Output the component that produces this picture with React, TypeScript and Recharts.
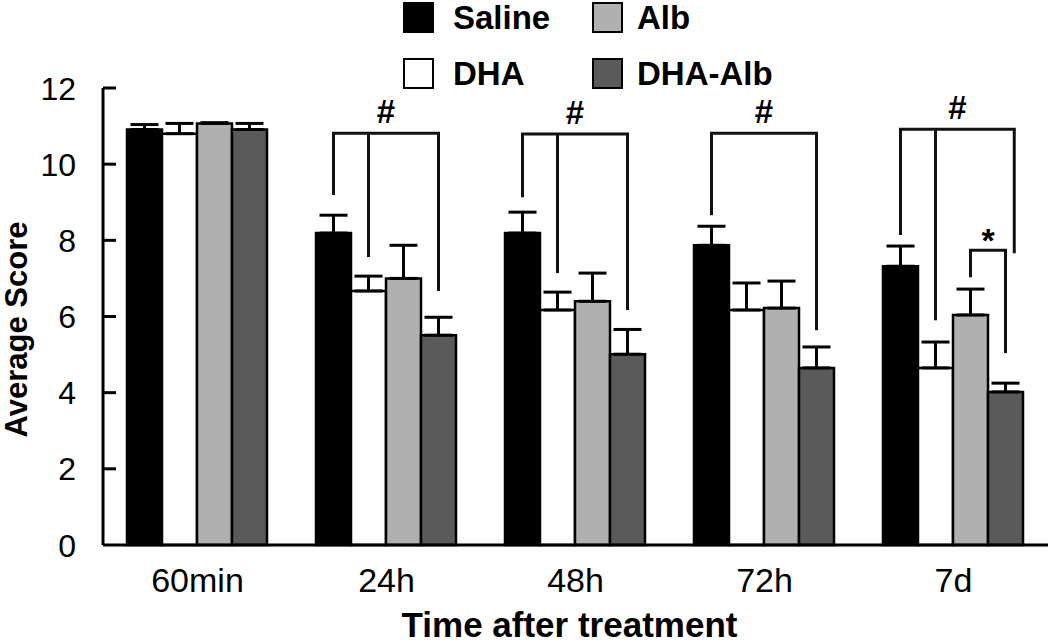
import { BarChart, Bar, XAxis, YAxis, ErrorBar, Rectangle } from 'recharts';

const categories = ['60min', '24h', '48h', '72h', '7d'];
const saline = [10.91, 8.19, 8.19, 7.87, 7.32];
const dha = [10.8, 6.67, 6.17, 6.17, 4.65];
const alb = [11.07, 7.0, 6.4, 6.22, 6.04];
const dhaAlb = [10.91, 5.51, 5.01, 4.65, 4.02];
const salineErr = [0.13, 0.47, 0.55, 0.5, 0.53];
const dhaErr = [0.27, 0.39, 0.47, 0.71, 0.68];
const albErr = [0.02, 0.87, 0.74, 0.71, 0.68];
const dhaAlbErr = [0.16, 0.47, 0.65, 0.55, 0.23];
const yTicks = [0, 2, 4, 6, 8, 10, 12];

// significance brackets: legs are [bar position in group, bottom value]
const brackets = [
  { cat: '24h', mark: '#', top: 10.81, legs: [[0, 9.19], [1, 7.56], [3, 6.67]] },
  { cat: '48h', mark: '#', top: 10.79, legs: [[0, 9.13], [1, 7.14], [3, 6.17]] },
  { cat: '72h', mark: '#', top: 10.81, legs: [[0, 8.66], [3, 5.64]] },
  { cat: '7d', mark: '#', top: 10.92, legs: [[0, 8.14], [1, 5.9], [3.25, 7.66]] },
  { cat: '7d', mark: '*', top: 7.74, legs: [[2, 7.03], [3, 5.04]] },
];

const data = categories.map((c, i) => ({
  name: c,
  saline: saline[i],
  dha: dha[i],
  alb: alb[i],
  dhaAlb: dhaAlb[i],
  salineErr: salineErr[i],
  dhaErr: dhaErr[i],
  albErr: albErr[i],
  dhaAlbErr: dhaAlbErr[i],
}));

const FONT = '"Liberation Sans", Arial, Helvetica, sans-serif';
const TICK_MARGIN = 27;

const YTick = (props: any) => {
  const { x, y, payload } = props;
  const axisX = x + TICK_MARGIN;
  return (
    <g>
      {payload.value !== 0 && (
        <line x1={axisX} y1={y} x2={axisX + 13} y2={y} stroke="#000" strokeWidth={3} />
      )}
      <text x={x} y={y} dy="0.36em" textAnchor="end" fontSize={32} fontFamily={FONT} fill="#000">
        {payload.value}
      </text>
    </g>
  );
};

// last bar of each group also draws the brackets for its group, using the bar's own scale
const DhaAlbShape = (props: any) => {
  const { x, y, width, height, payload, fill } = props;
  const base = y + height;
  const unit = height / payload.dhaAlb;
  const toY = (v: number) => base - v * unit;
  const groupX = x - 3 * width;
  const legX = (pos: number) => groupX + (pos + 0.5) * width;
  const mine = brackets.filter((b) => b.cat === payload.name);
  return (
    <g>
      <Rectangle x={x} y={y} width={width} height={height} fill={fill} stroke="#000" strokeWidth={2.5} />
      {mine.map((b, i) => {
        const xs = b.legs.map((l) => legX(l[0]));
        const top = toY(b.top);
        const cx = (Math.min(...xs) + Math.max(...xs)) / 2;
        return (
          <g key={i}>
            <line x1={Math.min(...xs) - 1.5} y1={top} x2={Math.max(...xs) + 1.5} y2={top} stroke="#111" strokeWidth={3} />
            {b.legs.map((l, j) => (
              <line key={j} x1={legX(l[0])} y1={top} x2={legX(l[0])} y2={toY(l[1])} stroke="#111" strokeWidth={3} />
            ))}
            <text
              x={cx}
              y={b.mark === '#' ? top - 10 : top + 2}
              textAnchor="middle"
              fontSize={b.mark === '#' ? 33 : 34}
              fontWeight="bold"
              fontFamily={FONT}
              fill="#000"
            >
              {b.mark}
            </text>
          </g>
        );
      })}
    </g>
  );
};

const legendItems = [
  { name: 'Saline', color: '#000000', left: 403, top: 2 },
  { name: 'Alb', color: '#b0b0b0', left: 592, top: 2 },
  { name: 'DHA', color: '#ffffff', left: 403, top: 58 },
  { name: 'DHA-Alb', color: '#5a5a5a', left: 592, top: 58 },
];

export default function App() {
  return (
    <div style={{ position: 'absolute', left: 0, top: 0, width: 1050, height: 644, background: '#fff', overflow: 'hidden' }}>
      {legendItems.map((it) => (
        <div
          key={it.name}
          style={{
            position: 'absolute',
            left: it.left,
            top: it.top,
            display: 'flex',
            alignItems: 'center',
            fontFamily: FONT,
            fontWeight: 'bold',
            fontSize: 33,
            lineHeight: '31px',
          }}
        >
          <span
            style={{
              display: 'inline-block',
              width: 27,
              height: 27,
              background: it.color,
              border: '2px solid #000',
              marginRight: it.left > 500 ? 14 : 19,
            }}
          />
          {it.name}
        </div>
      ))}
      <BarChart
        width={1050}
        height={644}
        data={data}
        margin={{ top: 88, right: 2, left: 0, bottom: 0 }}
        barGap={0}
        barCategoryGap={24}
      >
        <XAxis
          dataKey="name"
          height={99}
          axisLine={{ stroke: '#000', strokeWidth: 3 }}
          tickLine={false}
          tickSize={0}
          tickMargin={23}
          tick={{ fontSize: 34, fill: '#000', fontFamily: FONT }}
          label={{
            content: ({ viewBox }: any) => (
              <text
                x={viewBox.x + viewBox.width / 2 - 6}
                y={viewBox.y + viewBox.height - 7}
                textAnchor="middle"
                fontSize={35}
                fontWeight="bold"
                fontFamily={FONT}
                fill="#000"
              >
                Time after treatment
              </text>
            ),
          }}
        />
        <YAxis
          width={103}
          domain={[0, 12]}
          ticks={yTicks}
          interval={0}
          axisLine={{ stroke: '#000', strokeWidth: 3 }}
          tickLine={false}
          tickSize={0}
          tickMargin={TICK_MARGIN}
          tick={<YTick />}
          label={{
            content: ({ viewBox }: any) => {
              const cx = 27;
              const cy = viewBox.y + viewBox.height / 2 + 13;
              return (
                <text
                  x={cx}
                  y={cy}
                  transform={`rotate(-90 ${cx} ${cy})`}
                  textAnchor="middle"
                  fontSize={31}
                  fontWeight="bold"
                  fontFamily={FONT}
                  fill="#000"
                >
                  Average Score
                </text>
              );
            },
          }}
        />
        <Bar dataKey="saline" fill="#000000" stroke="#000" strokeWidth={2.5} isAnimationActive={false}>
          <ErrorBar dataKey={(d: any) => [0, d.salineErr]} width={14} stroke="#000" strokeWidth={3} direction="y" isAnimationActive={false} />
        </Bar>
        <Bar dataKey="dha" fill="#ffffff" stroke="#000" strokeWidth={2.5} isAnimationActive={false}>
          <ErrorBar dataKey={(d: any) => [0, d.dhaErr]} width={14} stroke="#000" strokeWidth={3} direction="y" isAnimationActive={false} />
        </Bar>
        <Bar dataKey="alb" fill="#b0b0b0" stroke="#000" strokeWidth={2.5} isAnimationActive={false}>
          <ErrorBar dataKey={(d: any) => [0, d.albErr]} width={14} stroke="#000" strokeWidth={3} direction="y" isAnimationActive={false} />
        </Bar>
        <Bar dataKey="dhaAlb" fill="#5a5a5a" stroke="#000" strokeWidth={2.5} shape={<DhaAlbShape />} isAnimationActive={false}>
          <ErrorBar dataKey={(d: any) => [0, d.dhaAlbErr]} width={14} stroke="#000" strokeWidth={3} direction="y" isAnimationActive={false} />
        </Bar>
      </BarChart>
    </div>
  );
}
